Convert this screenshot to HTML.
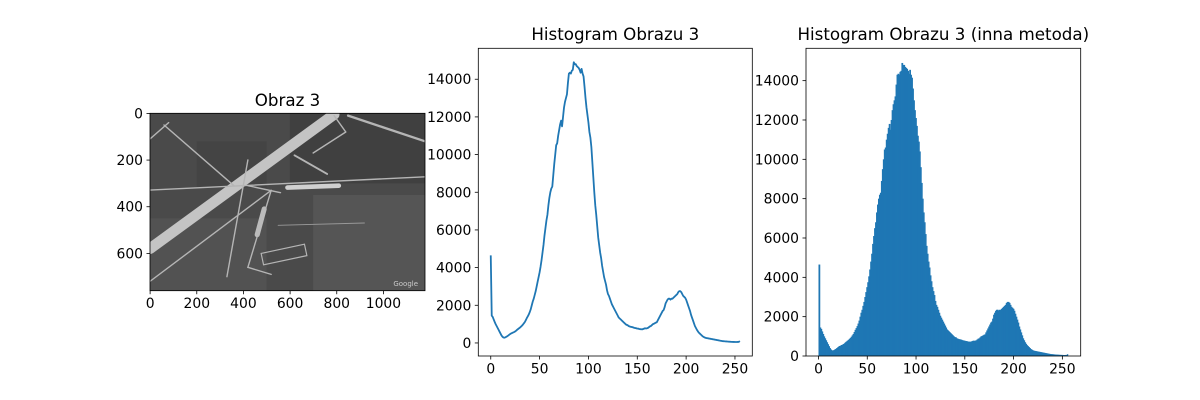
<!DOCTYPE html>
<html><head><meta charset="utf-8">
<style>
html,body{margin:0;padding:0;background:#fff;}
svg{display:block;font-family:"DejaVu Sans","Liberation Sans",sans-serif;}
</style></head>
<body>
<svg id="fig" width="1200" height="400" viewBox="0 0 1200 400" xmlns="http://www.w3.org/2000/svg">
  <rect width="1200" height="400" fill="#fff"/>
  <g>
    <text x="287.5" y="106" font-size="16.7" text-anchor="middle" fill="#000">Obraz 3</text>
    <svg x="150" y="113.3" width="275" height="177.4" viewBox="0 0 1180 760" preserveAspectRatio="none">
      <rect width="1180" height="760" fill="#4a4a4a"/>
      <rect x="600" y="0" width="580" height="300" fill="#404040"/>
      <rect x="0" y="450" width="500" height="310" fill="#525252"/>
      <rect x="700" y="350" width="480" height="410" fill="#555"/>
      <rect x="200" y="120" width="300" height="200" fill="#444"/>
      <g stroke="#b5b5b5" fill="none" stroke-linecap="round">
        <line x1="0" y1="580" x2="790" y2="5" stroke-width="46" stroke="#c4c4c4"/>
        <line x1="0" y1="329" x2="1180" y2="272" stroke-width="6"/>
        <line x1="60" y1="50" x2="360" y2="310" stroke-width="6"/>
        <line x1="0" y1="110" x2="80" y2="40" stroke-width="6"/>
        <line x1="0" y1="720" x2="520" y2="330" stroke-width="6"/>
        <line x1="520" y1="330" x2="420" y2="660" stroke-width="6"/>
        <line x1="420" y1="660" x2="520" y2="690" stroke-width="6"/>
        <line x1="420" y1="200" x2="330" y2="700" stroke-width="6"/>
        <line x1="620" y1="180" x2="760" y2="260" stroke-width="8"/>
        <line x1="790" y1="10" x2="840" y2="80" stroke-width="6"/>
        <line x1="840" y1="80" x2="700" y2="170" stroke-width="6"/>
        <line x1="850" y1="10" x2="1180" y2="120" stroke-width="10"/>
        <line x1="420" y1="310" x2="560" y2="340" stroke-width="6"/>
        <line x1="590" y1="318" x2="810" y2="310" stroke-width="20" stroke="#d0d0d0"/>
        <line x1="490" y1="410" x2="460" y2="520" stroke-width="22" stroke="#bbb"/>
        <line x1="550" y1="480" x2="920" y2="470" stroke-width="4" stroke="#999"/>
        <rect x="480" y="580" width="190" height="50" transform="rotate(-12 575 605)" stroke-width="5"/>
      </g>
      <text x="1150" y="740" font-size="30" fill="#ccc" text-anchor="end">Google</text>
    </svg>
    <g id="imgAxes"></g>
  </g>
  <g id="lineChart">
    <text x="615.3" y="40" font-size="16.7" text-anchor="middle" fill="#000">Histogram Obrazu 3</text>
  </g>
  <g id="barChart">
    <text x="943.3" y="40" font-size="16.7" text-anchor="middle" fill="#000">Histogram Obrazu 3 (inna metoda)</text>
  </g>
</svg>
<script>
const counts = [4650,1450,1380,1250,1120,1000,900,800,700,600,500,400,330,290,280,300,330,360,400,440,480,510,530,560,580,610,650,700,740,780,820,870,920,980,1050,1120,1220,1330,1420,1520,1650,1800,2000,2200,2350,2550,2750,3000,3250,3500,3750,4050,4400,4800,5200,5700,6100,6500,6800,7300,7700,8000,8200,8300,8900,9500,10000,10500,10600,11000,11300,11600,11800,11500,12000,12500,12800,13000,13200,13800,14300,14350,14300,14450,14500,14900,14800,14800,14700,14650,14600,14500,14350,14550,14300,14150,13600,13000,12500,12100,11700,11200,10900,10400,9600,8800,8000,7300,6800,6200,5600,5200,4800,4500,4100,3800,3500,3300,3100,2800,2600,2500,2350,2200,2050,1950,1850,1750,1650,1550,1450,1350,1300,1250,1200,1150,1100,1050,1000,960,950,900,880,860,850,840,820,800,790,780,760,760,740,730,730,720,740,760,780,770,780,800,840,880,900,950,1000,1020,1050,1080,1100,1200,1300,1400,1500,1600,1700,1750,1900,2100,2200,2300,2350,2350,2300,2350,2350,2400,2450,2500,2550,2600,2700,2750,2750,2700,2600,2500,2450,2400,2300,2150,2000,1850,1700,1500,1350,1200,1050,900,800,700,620,550,500,450,400,350,320,290,270,260,250,240,230,220,210,200,190,180,170,160,150,140,130,120,110,100,95,90,85,80,75,70,68,65,60,58,55,55,52,50,50,55,60,100];
const xTicks = [0,50,100,150,200,250];
const yTicks = [0,2000,4000,6000,8000,10000,12000,14000];
const imgXTicks = [0,200,400,600,800,1000];
const imgYTicks = [0,200,400,600];
const NS = "http://www.w3.org/2000/svg";
function mk(tag, attrs, parent){const e=document.createElementNS(NS,tag);for(const k in attrs)e.setAttribute(k,attrs[k]);parent.appendChild(e);return e;}

function axes(g, box, xs, ys, xt, yt, prefix){
  for(const t of xt){
    const x=xs(t);
    const l=mk('line',{x1:x,y1:box.b,x2:x,y2:box.b+3.5,stroke:'#000','stroke-width':0.8},g);
    
    
    const tx=mk('text',{x:x,y:box.b+17.5,'font-size':13.9,'text-anchor':'middle',fill:'#000'},g);
    tx.textContent=t;
    
    
  }
  for(const t of yt){
    const y=ys(t);
    const l=mk('line',{x1:box.l-3.5,y1:y,x2:box.l,y2:y,stroke:'#000','stroke-width':0.8},g);
    
    
    const tx=mk('text',{x:box.l-7,y:y+5,'font-size':13.9,'text-anchor':'end',fill:'#000'},g);
    tx.textContent=t;
    
    
  }
  const f=mk('rect',{x:box.l,y:box.t,width:box.r-box.l,height:box.b-box.t,fill:'none',stroke:'#000','stroke-width':0.8},g);
  
  
}

(function(){
  const g=document.getElementById('imgAxes');
  const box={l:150,r:425,t:113.3,b:290.7};
  const s=0.2333;
  const xs=v=>150+(v+0.5)*s, ys=v=>113.3+(v+0.5)*s;
  axes(g,box,xs,ys,imgXTicks,imgYTicks,'image');
})();

(function(){
  const g=document.getElementById('lineChart');
  const box={l:478.3,r:752.3,t:48.3,b:356};
  const x0=-12.75,x1=267.75;
  const ymax=Math.max(...counts), ymin=Math.min(...counts);
  const pad=(ymax-ymin)*0.05;
  const y0=ymin-pad,y1=ymax+pad;
  const xs=v=>box.l+(v-x0)/(x1-x0)*(box.r-box.l);
  const ys=v=>box.b-(v-y0)/(y1-y0)*(box.b-box.t);
  let d='';
  counts.forEach((c,i)=>{d+=(i?'L':'M')+xs(i).toFixed(2)+','+ys(c).toFixed(2);});
  const p=mk('path',{d:d,fill:'none',stroke:'#1f77b4','stroke-width':1.8,'stroke-linejoin':'round'},g);
  
  
  axes(g,box,xs,ys,xTicks,yTicks,'line-chart');
})();

(function(){
  const g=document.getElementById('barChart');
  const box={l:806,r:1080.7,t:48.3,b:356};
  const x0=-12.8,x1=268.8;
  const ymax=Math.max(...counts);
  const y0=0,y1=ymax*1.05;
  const xs=v=>box.l+(v-x0)/(x1-x0)*(box.r-box.l);
  const ys=v=>box.b-(v-y0)/(y1-y0)*(box.b-box.t);
  counts.forEach((c,i)=>{
    const w = (i===counts.length-1) ? xs(i+1)-xs(i) : xs(i+1)-xs(i)+0.8;
    const r=mk('rect',{x:xs(i),y:ys(c),width:w,height:ys(0)-ys(c),fill:'#1f77b4'},g);
    
    
  });
  axes(g,box,xs,ys,xTicks,yTicks,'bar-chart');
})();
</script>
</body></html>
